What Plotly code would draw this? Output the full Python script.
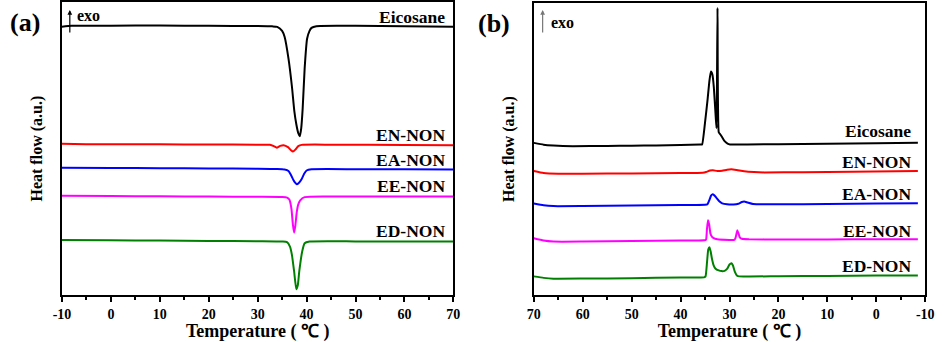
import plotly.graph_objects as go

# ---------------- (a) heating scans ----------------
heat_eicosane_t = [-10, -8, 0, 10, 20, 30, 33, 34, 35, 35.5, 36.3, 37, 37.5, 37.9, 38.3, 38.6,
                   38.9, 39.2, 39.6, 40.1, 40.6, 41.0, 42, 50, 60, 70]
heat_eicosane_q = [270, 271, 271.2, 271.3, 271, 270.8, 270.5, 270, 266, 260, 238, 210, 185, 172, 163, 160,
                   168, 188, 228, 258, 266, 269, 270.7, 271, 270.5, 270]

heat_en_t = [-10, -5, 10, 20, 30, 32.5, 33.3, 33.9, 34.6, 35.3, 36.2, 36.8, 37.2, 37.7, 38.3, 39, 45, 60, 70]
heat_en_q = [152.3, 152, 151.8, 151.6, 151.5, 151.3, 150, 148.5, 150.3, 151, 149, 146, 144.5, 146.5, 150,
             151.3, 151.5, 151.2, 151]

heat_ea_t = [-10, 0, 10, 20, 30, 34, 35.5, 36.3, 36.8, 37.3, 37.7, 38, 38.4, 39, 39.5, 40, 41, 50, 60, 70]
heat_ea_q = [128.3, 128, 127.8, 127.6, 127.3, 127, 126.5, 125, 121, 116, 113, 111.7, 113, 117, 122.3,
             125.5, 126.7, 126.8, 126.7, 126.5]

heat_ee_t = [-10, 0, 10, 20, 30, 35, 36, 36.5, 36.9, 37.2, 37.45, 37.7, 38.0, 38.3, 38.7, 39.6, 45, 60, 70]
heat_ee_q = [100, 99.8, 99.5, 99.3, 99, 98.8, 98.3, 96, 87, 71, 63, 70, 84, 91.5, 95.5, 98.7, 99.3, 99.3, 99.3]

heat_ed_t = [-10, 0, 10, 20, 30, 35, 36, 36.6, 37, 37.45, 37.9, 38.2, 38.5, 39.1, 39.6, 40.6, 50, 60, 70]
heat_ed_q = [55.7, 55.3, 55, 54.7, 54.3, 54, 53.5, 49, 40.7, 24, 6, 10, 24, 44, 52.3, 54, 54.2, 54.1, 54]

# ---------------- (b) cooling scans ----------------
cool_eicosane_t = [70, 68, 66, 62, 55, 50, 45, 40, 36, 35.6, 35.0, 34.5, 34.1, 33.8, 33.5, 33.2, 32.8,
                   32.65, 32.45, 32.2, 31.9, 31.5, 31.0, 30.4, 29.9, 20, 10, 0, -8.5]
cool_eicosane_q = [153.3, 151.5, 150.7, 150, 150.2, 150.4, 150.7, 151.2, 151.6, 151.7, 174, 196, 216, 225,
                   222, 209, 178, 168, 289, 164, 162, 159, 155, 152.5, 151.7, 152, 152.5, 153, 153.3]

cool_en_t = [70, 68, 65, 60, 50, 40, 35.5, 34.8, 34, 33.4, 32.5, 31.5, 30.5, 29.6, 28.5, 27, 25, 22.9,
             15, 5, -8.5]
cool_en_q = [125, 123, 122.3, 122.3, 122.6, 123, 123.3, 124, 125.5, 125.8, 125, 125.3, 126.3, 126.7, 126,
             124.8, 124, 123.6, 123.8, 124.3, 125]

cool_ea_t = [70, 68, 66, 60, 50, 40, 35, 34.5, 34.1, 33.8, 33.5, 33.1, 32.6, 32.1, 31.5, 30.5, 29.2,
             28.2, 27.5, 27.0, 26.3, 25.2, 20, 10, 0, -8.5]
cool_ea_q = [92.3, 90.5, 89.7, 89.8, 90.3, 90.7, 91, 91.5, 96, 100, 101.5, 100.5, 97.5, 94.5, 92.5, 91.5,
             91.3, 92, 93.8, 94.3, 93.3, 91.8, 91.5, 91.8, 92.2, 92.5]

cool_ee_t = [70, 68, 66, 60, 50, 40, 35.2, 34.8, 34.6, 34.4, 34.15, 33.9, 33.6, 33.25, 32.5, 30, 29,
             28.75, 28.4, 28.15, 27.9, 27.5, 26, 20, 10, 0, -8.5]
cool_ee_q = [57.3, 55, 54, 54, 54.5, 55, 55.3, 56, 67, 75.5, 71, 62, 59, 57.5, 56.3, 55.7, 55.8,
             58, 65.5, 62, 58.3, 56.8, 56.3, 56.2, 56.2, 56.3, 56.3]

cool_ed_t = [70, 68, 66, 60, 50, 40, 35.2, 34.9, 34.6, 34.35, 34.1, 33.85, 33.6, 33.2, 32.9, 32.2, 31.6,
             31.0, 30.5, 30.0, 29.6, 29.3, 28.9, 28.5, 28.0, 20, 10, 0, -8.5]
cool_ed_q = [19, 17.5, 16.7, 16.8, 17.2, 17.8, 18, 19, 33, 46, 48.3, 44, 37, 29.5, 27, 25, 24.3,
             24.6, 26.5, 31, 32.3, 30, 23.5, 20, 19, 19.2, 19.5, 19.8, 20]

sample_names = ["Eicosane", "EN-NON", "EA-NON", "EE-NON", "ED-NON"]
sample_colors = ["#000000", "#ff0000", "#0000ff", "#ff00ff", "#008000"]
x_ticks = [-10, 0, 10, 20, 30, 40, 50, 60, 70]

heating = [(heat_eicosane_t, heat_eicosane_q), (heat_en_t, heat_en_q), (heat_ea_t, heat_ea_q),
           (heat_ee_t, heat_ee_q), (heat_ed_t, heat_ed_q)]
cooling = [(cool_eicosane_t, cool_eicosane_q), (cool_en_t, cool_en_q), (cool_ea_t, cool_ea_q),
           (cool_ee_t, cool_ee_q), (cool_ed_t, cool_ed_q)]

W, H = 945, 342
SERIF = "Liberation Serif"


def px(x):
    return x / W


def py(y):
    return 1 - y / H


fig = go.Figure()
for (t, q), name, col in zip(heating, sample_names, sample_colors):
    fig.add_trace(go.Scatter(x=t, y=q, mode="lines", name=name, xaxis="x", yaxis="y",
                             line=dict(color=col, width=2, shape="spline", smoothing=0.5)))
for (t, q), name, col in zip(cooling, sample_names, sample_colors):
    fig.add_trace(go.Scatter(x=t, y=q, mode="lines", name=name, xaxis="x2", yaxis="y2",
                             line=dict(color=col, width=2, shape="spline", smoothing=0.4)))

common_x = dict(
    showline=True, mirror=True, linecolor="black", linewidth=2,
    ticks="outside", ticklen=5, tickwidth=2, tickcolor="black",
    tickvals=x_ticks, ticktext=[str(v) for v in x_ticks],
    minor=dict(ticks="outside", ticklen=3, tickwidth=2, tickcolor="black", dtick=5),
    tickfont=dict(family=SERIF, size=14, color="black", weight="bold"),
    showgrid=False, zeroline=False,
    title=dict(text="Temperature ( \u2103 )", standoff=5,
               font=dict(family=SERIF, size=18, color="black", weight="bold")),
)
common_y = dict(
    showline=True, mirror=True, linecolor="black", linewidth=2,
    ticks="", showticklabels=False, showgrid=False, zeroline=False,
    title=dict(text="Heat flow (a.u.)", standoff=13,
               font=dict(family=SERIF, size=16, color="black", weight="bold")),
)

fig.update_layout(
    width=W, height=H,
    margin=dict(l=0, r=0, t=0, b=0),
    paper_bgcolor="white", plot_bgcolor="white",
    showlegend=False,
    xaxis=dict(common_x, domain=[px(54), px(453)], range=[-10, 70], anchor="y"),
    yaxis=dict(common_y, domain=[1 - 295 / H, 1.0], range=[0, 295], anchor="x"),
    xaxis2=dict(common_x, domain=[px(535), px(934)], range=[70, -10], anchor="y2"),
    yaxis2=dict(common_y, domain=[1 - 295 / H, 1 - 1 / H], range=[0, 294], anchor="x2"),
)

ann = []
# curve labels
label_rows_a = [15.5, 133.5, 158.5, 185, 230]
label_rows_b = [129.5, 161, 193, 230, 266]
for name, ya, yb in zip(sample_names, label_rows_a, label_rows_b):
    for xr, yy in ((446.7, ya), (921.7, yb)):
        ann.append(dict(x=px(xr), y=py(yy), xref="paper", yref="paper", text=name, showarrow=False,
                        xanchor="right", yanchor="middle",
                        font=dict(family=SERIF, size=17.5, color="black", weight="bold")))

# panel letters
for txt, xx, yy in (("(a)", 16, 21), ("(b)", 494, 22)):
    ann.append(dict(x=px(xx), y=py(yy), xref="paper", yref="paper", text=txt, showarrow=False,
                    xanchor="center", yanchor="middle",
                    font=dict(family=SERIF, size=26, color="black", weight="bold")))

# exo arrows and labels
for xa, col, xt, yt in ((62, "black", 67, 14), (544, "#777777", 550, 21)):
    ann.append(dict(x=px(xa), y=py(8), xref="paper", yref="paper", text="", showarrow=True,
                    ax=0, ay=24, arrowhead=2, arrowsize=0.8, arrowwidth=1.2, arrowcolor=col))
    ann.append(dict(x=px(xt), y=py(yt), xref="paper", yref="paper", text="exo", showarrow=False,
                    xanchor="left", yanchor="middle",
                    font=dict(family=SERIF, size=16, color="black", weight="bold")))

fig.update_layout(annotations=ann)
fig.write_html("out.html")
